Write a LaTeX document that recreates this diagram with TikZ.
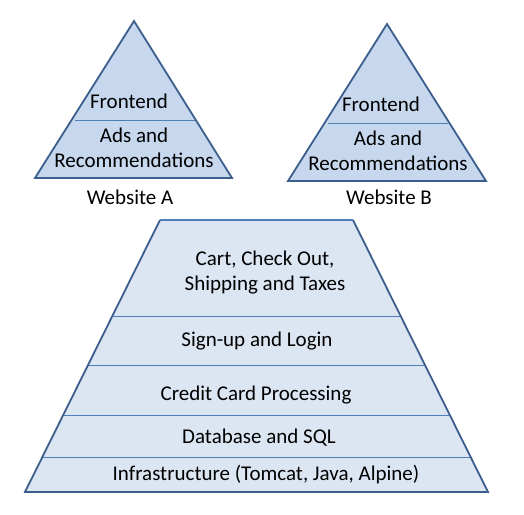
\documentclass[tikz,border=0pt]{standalone}
\usepackage{fontspec}
\setmainfont{Carlito}
\definecolor{edge}{HTML}{3B5E8C}
\definecolor{divc}{HTML}{4F7FBA}
\definecolor{trifill}{HTML}{C6D7EE}
\definecolor{trapfill}{HTML}{DCE5F2}
\tikzset{
  outline/.style={draw=edge, line width=1.8pt, line join=miter},
  divider/.style={draw=divc, line width=0.9pt},
  lbl/.style={font=\fontsize{21}{25}\selectfont, align=center, inner sep=0pt, text=black},
}
\begin{document}
\begin{tikzpicture}[x=1pt,y=-1pt]
\useasboundingbox (0,0) rectangle (524,514);
% Website A
\coordinate (aT) at (134,21);
\coordinate (aL) at (35,178);
\coordinate (aR) at (232,178);
\coordinate (aDL) at (75,120);
\coordinate (aDR) at (195,120);
\fill[trifill] (aT) -- (aL) -- (aR) -- cycle;
\draw[divider] (aDL) -- (aDR);
\draw[outline] (aT) -- (aL) -- (aR) -- cycle;
\node[lbl] (aFront) at (129,101) {Frontend};
\node[lbl] (aAds) at (134,148) {Ads and\\Recommendations};
\node[lbl] (aName) at (130,197) {Website A};
% Website B
\coordinate (bT) at (387,24);
\coordinate (bL) at (288,181);
\coordinate (bR) at (486,181);
\coordinate (bDL) at (328,123);
\coordinate (bDR) at (448,123);
\fill[trifill] (bT) -- (bL) -- (bR) -- cycle;
\draw[divider] (bDL) -- (bDR);
\draw[outline] (bT) -- (bL) -- (bR) -- cycle;
\node[lbl] (bFront) at (381,104) {Frontend};
\node[lbl] (bAds) at (388,151) {Ads and\\Recommendations};
\node[lbl] (bName) at (389,197) {Website B};
% Shared trapezoid
\coordinate (tTL) at (160,220);
\coordinate (tTR) at (353,220);
\coordinate (tBL) at (25,492);
\coordinate (tBR) at (488,492);
\fill[trapfill] (tTL) -- (tTR) -- (tBR) -- (tBL) -- cycle;
\foreach \y/\n in {316/d1,365/d2,415/d3,457/d4}{
  \path (tTL) -- (tBL) coordinate[pos={(\y-220)/272}] (\n L);
  \path (tTR) -- (tBR) coordinate[pos={(\y-220)/272}] (\n R);
  \draw[divider] (\n L) -- (\n R);
}
\draw[outline] (tTR) -- (tBR) -- (tBL) -- (tTL);
\draw[draw=divc, line width=2.4pt] (tTL) -- (tTR);
\node[lbl] (cart) at (265,273) {Cart, Check Out,\\Shipping and Taxes};
\node[lbl] (sign) at (257,341) {Sign-up and Login};
\node[lbl] (credit) at (256,395) {Credit Card Processing};
\node[lbl] (db) at (259,438) {Database and SQL};
\node[lbl] (infra) at (266,475) {Infrastructure (Tomcat, Java, Alpine)};
\end{tikzpicture}
\end{document}
